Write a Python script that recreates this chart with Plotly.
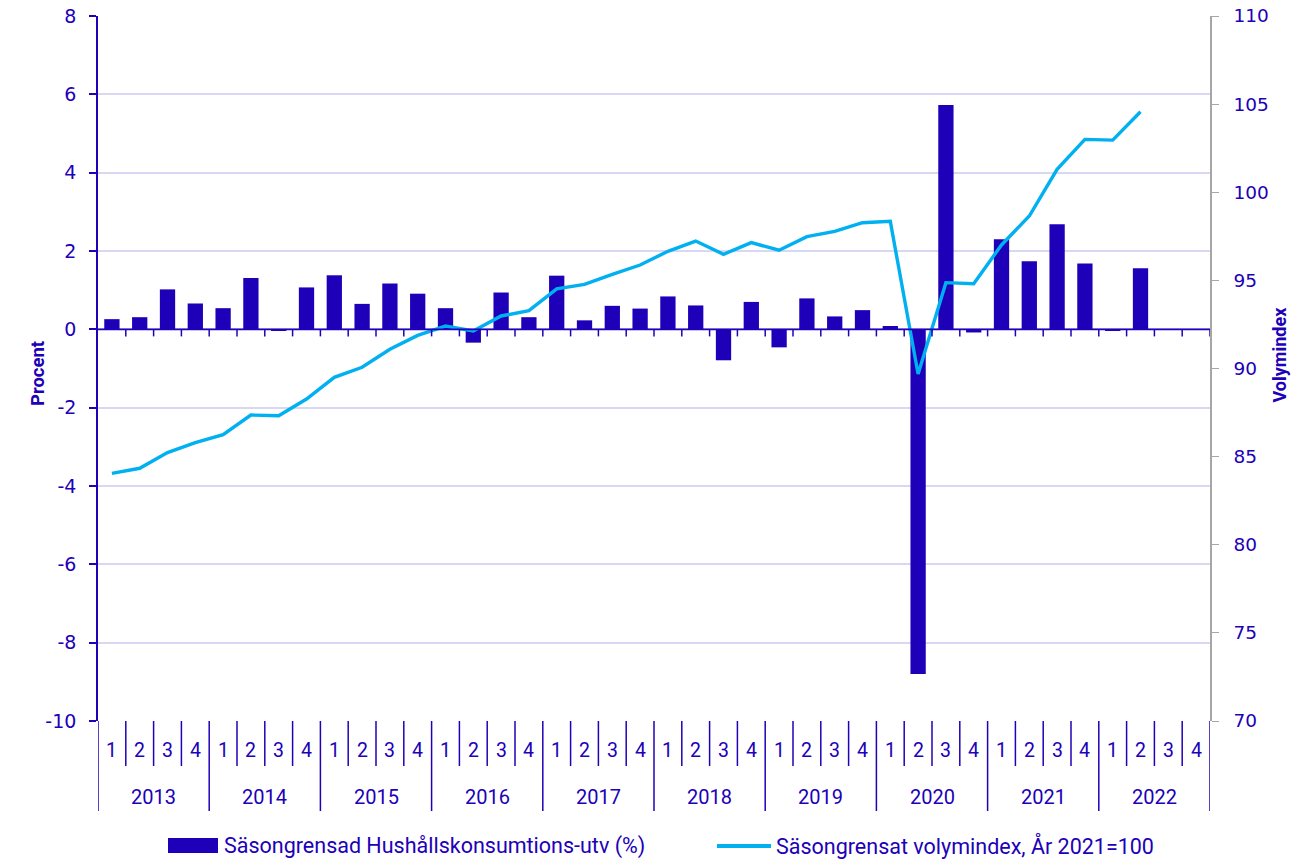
import plotly.graph_objects as go

years = ["2013", "2014", "2015", "2016", "2017", "2018", "2019", "2020", "2021", "2022"]
quarters = ["1", "2", "3", "4"]

growth = [0.26, 0.31, 1.02, 0.66,
          0.54, 1.31, -0.04, 1.07,
          1.38, 0.65, 1.17, 0.91,
          0.54, -0.34, 0.94, 0.31,
          1.37, 0.23, 0.60, 0.53,
          0.84, 0.61, -0.79, 0.70,
          -0.46, 0.79, 0.33, 0.49,
          0.085, -8.80, 5.73, -0.08,
          2.30, 1.74, 2.68, 1.68,
          -0.02, 1.56, None, None]

volume_index = [84.05, 84.34, 85.23, 85.79,
                86.25, 87.36, 87.32, 88.27,
                89.50, 90.07, 91.09, 91.88,
                92.41, 92.13, 92.98, 93.28,
                94.52, 94.77, 95.34, 95.87,
                96.65, 97.23, 96.48, 97.14,
                96.71, 97.48, 97.78, 98.27,
                98.35, 89.69, 94.87, 94.81,
                97.01, 98.65, 101.30, 103.00,
                102.96, 104.57, None, None]

left_ticks = [8, 6, 4, 2, 0, -2, -4, -6, -8, -10]
left_tick_text = ["8", "6", "4", "2", "0", "-2", "-4", "-6", "-8", "-10"]
right_ticks = [110, 105, 100, 95, 90, 85, 80, 75, 70]

bar_name = "Säsongrensad Hushållskonsumtions-utv (%)"
line_name = "Säsongrensat volymindex, År 2021=100"

categories = [f"{y} K{q}" for y in years for q in quarters]

DARK = "#2000b8"
BAR = "#1f00b9"
LINE = "#00b0f0"
GRID = "#d8d8f2"

W, H = 1305, 859
L, R, T, B = 98, 1210, 16, 721
pw, ph = R - L, B - T


def px_x(p):
    return (p - L) / pw


def px_y(p):
    return (B - p) / ph


fig = go.Figure()
fig.add_trace(go.Bar(x=categories, y=growth, name=bar_name, marker=dict(color=BAR, line=dict(width=0)),
                     showlegend=False))
fig.add_trace(go.Scatter(x=categories, y=volume_index, name=line_name, yaxis="y2", mode="lines",
                         line=dict(color=LINE, width=3.4), showlegend=False))

shapes = []
n = len(categories)
# zero line with ticks
shapes.append(dict(type="line", xref="x", yref="y", x0=-0.5, x1=n - 0.5, y0=0, y1=0,
                   line=dict(color=DARK, width=1.6), layer="above"))
for i in range(1, n + 1):
    shapes.append(dict(type="line", xref="x", yref="y", x0=i - 0.5, x1=i - 0.5, y0=0, y1=-0.18,
                       line=dict(color=DARK, width=1.5), layer="above"))
# category separators below plot
for i in range(n + 1):
    long = (i % 4 == 0)
    shapes.append(dict(type="line", xref="x", yref="paper", x0=i - 0.5, x1=i - 0.5,
                       y0=0, y1=px_y(811 if long else 766),
                       line=dict(color=DARK, width=1.5)))

annotations = []
for yi, yr in enumerate(years):
    for qi, q in enumerate(quarters):
        idx = yi * 4 + qi
        annotations.append(dict(x=idx, y=px_y(750), xref="x", yref="paper", text=q, showarrow=False,
                                font=dict(family="Roboto", size=19.5, color=DARK), yanchor="middle"))
    annotations.append(dict(x=yi * 4 + 1.5, y=px_y(797), xref="x", yref="paper", text=yr, showarrow=False,
                            font=dict(family="Roboto", size=20, color=DARK), yanchor="middle"))

# axis titles
annotations.append(dict(x=px_x(25), y=px_y(374), xref="paper", yref="paper", text="<b>Procent</b>",
                        textangle=-90, showarrow=False, font=dict(family="Roboto", size=18.5, color=DARK)))
annotations.append(dict(x=px_x(1291), y=px_y(355), xref="paper", yref="paper", text="<b>Volymindex</b>",
                        textangle=-90, showarrow=False, font=dict(family="Roboto", size=18, color=DARK)))

# custom legend
shapes.append(dict(type="rect", xref="paper", yref="paper", x0=px_x(168), x1=px_x(218),
                   y0=px_y(853), y1=px_y(838), fillcolor=BAR, line=dict(width=0)))
annotations.append(dict(x=px_x(222), y=px_y(846), xref="paper", yref="paper", text=bar_name,
                        xanchor="left", yanchor="middle", showarrow=False,
                        font=dict(family="Roboto", size=21.5, color=DARK)))
shapes.append(dict(type="line", xref="paper", yref="paper", x0=px_x(717), x1=px_x(771),
                   y0=px_y(846), y1=px_y(846), line=dict(color=LINE, width=4)))
annotations.append(dict(x=px_x(774), y=px_y(846), xref="paper", yref="paper", text=line_name,
                        xanchor="left", yanchor="middle", showarrow=False,
                        font=dict(family="Roboto", size=21.5, color=DARK)))

fig.update_layout(
    template="none",
    width=W, height=H,
    margin=dict(l=L, r=W - R, t=T, b=H - B, pad=0, autoexpand=False),
    paper_bgcolor="white", plot_bgcolor="white",
    bargap=0.45,
    showlegend=False,
    xaxis=dict(type="category", categoryorder="array", categoryarray=categories,
               range=[-0.5, n - 0.5], showticklabels=False, showgrid=False, zeroline=False,
               showline=False, ticks="", automargin=False),
    yaxis=dict(range=[-10, 8], tickmode="array", tickvals=left_ticks, ticktext=left_tick_text,
               showgrid=True, gridcolor=GRID, gridwidth=1.8, automargin=False,
               zeroline=False, showline=True, linecolor=DARK, linewidth=1.6,
               ticks="outside", ticklen=7, tickcolor=DARK, tickwidth=1.5,
               ticklabelstandoff=9,
               tickfont=dict(family="DejaVu Sans", size=19, color=DARK)),
    yaxis2=dict(range=[70, 110], tickmode="array", tickvals=right_ticks, overlaying="y", side="right",
                showgrid=False, automargin=False,
                zeroline=False, showline=True, linecolor="#a6a6a6", linewidth=1.5,
                ticks="outside", ticklen=7, tickcolor="#a6a6a6", tickwidth=1.2,
                ticklabelstandoff=11,
                tickfont=dict(family="DejaVu Sans", size=18.5, color=DARK)),
    shapes=shapes,
    annotations=annotations,
)

fig.write_html("out.html", config={"displayModeBar": False},
               post_script="document.body.style.margin='0px';")
